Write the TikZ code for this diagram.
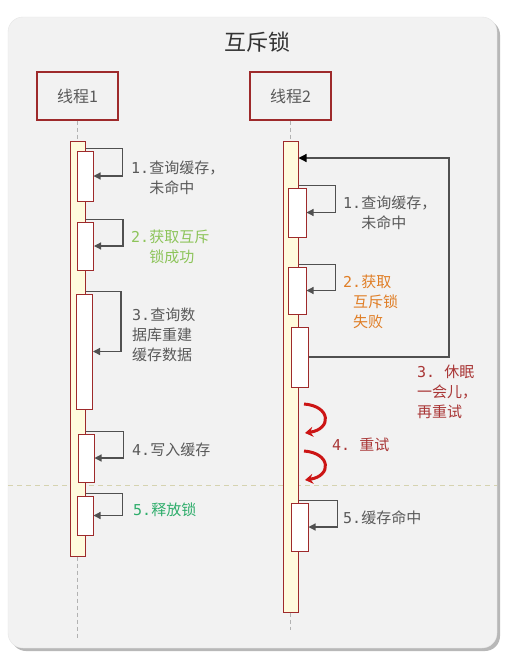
\documentclass[tikz,border=0pt]{standalone}
\usepackage{fontspec}
\setmainfont{Noto Sans CJK SC}
\newfontfamily\numfont{DejaVu Sans Mono}
\newcommand\stepnum[1]{{\numfont #1}}
\usetikzlibrary{arrows.meta}
\definecolor{panelbg}{HTML}{F2F2F2}
\definecolor{panelshadow}{HTML}{B8B8B8}
\definecolor{boxred}{HTML}{9E2A2B}
\definecolor{barcream}{HTML}{FFFBDD}
\definecolor{txtgray}{HTML}{595959}
\definecolor{arrgray}{HTML}{505050}
\definecolor{lockgreen}{HTML}{8DC45A}
\definecolor{freegreen}{HTML}{2EAD6B}
\definecolor{failorange}{HTML}{E07E26}
\definecolor{sleepred}{HTML}{A93636}
\definecolor{retryred}{HTML}{CC1515}
\definecolor{splitline}{HTML}{D6D3B0}
\begin{document}
\begin{tikzpicture}[
    x=1pt,y=-1pt,
    thread/.style={draw=boxred,line width=1.2pt,fill=panelbg,minimum width=81pt,minimum height=48pt,
        font=\fontsize{16}{19}\selectfont,text=txtgray},
    bar/.style={draw=boxred,line width=1pt,fill=barcream,minimum width=15pt,inner sep=0pt},
    act/.style={draw=boxred,line width=1pt,fill=white,minimum width=16pt,inner sep=0pt},
    note/.style={anchor=west,align=left,inner sep=0pt,font=\fontsize{15}{20}\selectfont},
    selfarr/.style={draw=arrgray,line width=1.2pt,-{Triangle[length=7pt,width=7pt]}},
    life/.style={draw=gray!60,line width=1pt,dash pattern=on 4pt off 3pt},
    retry/.style={draw=retryred,line width=3pt,-{Stealth[length=8pt,width=10pt]}}
]
\useasboundingbox[fill=white] (0,0) rectangle (512,662);
\fill[panelshadow,rounded corners=15pt] (11,20) rectangle (500,651);
\filldraw[fill=panelbg,draw=gray!20,rounded corners=15pt] (8,17) rectangle (497,648);
\node[font=\fontsize{22}{26}\selectfont,text=black!80] (title) at (257,42) {互斥锁};
\draw[splitline,line width=1pt,dash pattern=on 5pt off 4pt] (8,485) -- (497,485);

\node[thread] (th1) at (77.5,96) {线程1};
\node[thread] (th2) at (290.5,96) {线程2};

\node[bar,minimum height=415pt] (bar1) at (77.5,348.5) {};
\node[bar,minimum height=471pt] (bar2) at (290.5,376.5) {};
\coordinate (end1) at (77.5,640);
\coordinate (end2) at (290.5,630);
\draw[life] (th1.south) -- (bar1.north);
\draw[life] (bar1.south) -- (end1);
\draw[life] (th2.south) -- (bar2.north);
\draw[life] (bar2.south) -- (end2);

\node[act,minimum height=50pt] (s11) at (85,176) {};
\node[act,minimum height=48pt] (s12) at (85.5,246) {};
\node[act,minimum height=115pt] (s13) at (84.5,351.5) {};
\node[act,minimum height=48pt] (s14) at (86,458) {};
\node[act,minimum height=39pt] (s15) at (85,515.5) {};

\node[act,minimum width=18pt,minimum height=49pt] (s21) at (297,212.5) {};
\node[act,minimum width=18pt,minimum height=47pt] (s22) at (297,290.5) {};
\node[act,minimum width=17pt,minimum height=60pt] (s23) at (299.5,357) {};
\node[act,minimum width=17pt,minimum height=48pt] (s25) at (299.5,527) {};

\draw[selfarr] ([yshift=2pt]s11.north -| bar1.east) -| ([xshift=29pt]s11.east) -- (s11.east);
\draw[selfarr] ([yshift=2pt]s12.north -| bar1.east) -| ([xshift=29pt]s12.east) -- (s12.east);
\draw[selfarr] ([yshift=2pt]s13.north -| bar1.east) -| ([xshift=28pt]s13.east) -- (s13.east);
\draw[selfarr] ([yshift=2pt]s14.north -| bar1.east) -| ([xshift=29pt]s14.east) -- (s14.east);
\draw[selfarr] ([yshift=2pt]s15.north -| bar1.east) -| ([xshift=29pt]s15.east) -- (s15.east);

\draw[selfarr] ([yshift=2pt]s21.north -| bar2.east) -| ([xshift=29pt]s21.east) -- (s21.east);
\draw[selfarr] ([yshift=2pt]s22.north -| bar2.east) -| ([xshift=29pt]s22.east) -- (s22.east);
\draw[selfarr] ([yshift=2pt]s25.north -| bar2.east) -| ([xshift=29pt]s25.east) -- (s25.east);
\coordinate (wait) at (449,158);
\draw[selfarr,-{Triangle[length=8pt,width=8pt,color=black]}] (s23.east) -| (wait) -- (wait -| bar2.east);

\draw[retry] (304,404) .. controls (331,406) and (332,429) .. (305,433);
\draw[retry] (304,451) .. controls (331,453) and (332,476) .. (305,480);

\node[note,text=txtgray] (n11) at (131,178) {\stepnum{1.}查询缓存，\\\phantom{\stepnum{1.}}未命中};
\node[note,text=lockgreen] (n12) at (131,246.5) {\stepnum{2.}获取互斥\\\phantom{\stepnum{2.}}锁成功};
\node[note,text=txtgray] (n13) at (132,335) {\stepnum{3.}查询数\\据库重建\\缓存数据};
\node[note,text=txtgray] (n14) at (132,450) {\stepnum{4.}写入缓存};
\node[note,text=freegreen] (n15) at (133,510) {\stepnum{5.}释放锁};

\node[note,text=txtgray] (n21) at (343,212.5) {\stepnum{1.}查询缓存，\\\phantom{\stepnum{1.}}未命中};
\node[note,text=failorange] (n22) at (343,302) {\stepnum{2.}获取\\\hspace*{10pt}互斥锁\\\hspace*{10pt}失败};
\node[note,text=sleepred] (n23) at (417,392) {\stepnum{3.\ }休眠\\一会儿，\\再重试};
\node[note,text=sleepred] (n24) at (332,445) {\stepnum{4.\ }重试};
\node[note,text=txtgray] (n25) at (343,518) {\stepnum{5.}缓存命中};
\end{tikzpicture}
\end{document}
